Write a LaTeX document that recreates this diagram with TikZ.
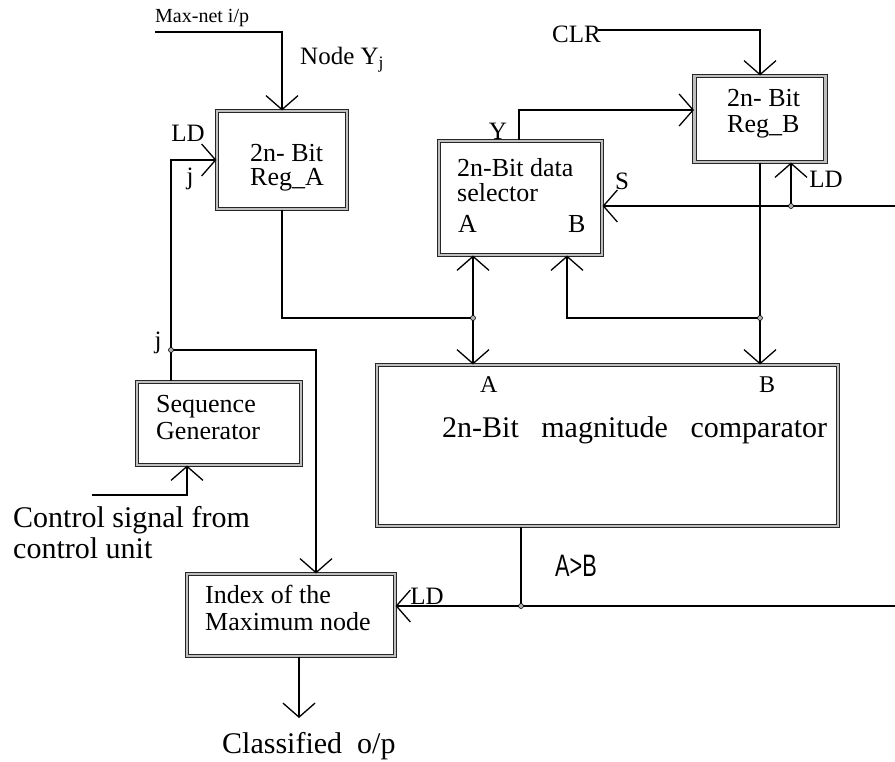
\documentclass[tikz,border=0pt]{standalone}
\usepackage{fontspec}
\setmainfont{Liberation Serif}
\newfontfamily\narrowsans{Liberation Sans}[FakeStretch=0.7]
\usetikzlibrary{arrows.meta}

\begin{document}
\begin{tikzpicture}[x=1pt, y=-1pt,
  blk/.style={draw=black!85, double=gray!50, double distance=2.2pt, line width=1.05pt,
              inner sep=0pt, anchor=center},
  wire/.style={line width=1.3pt, line join=miter},
  sig/.style={wire, -{Straight Barb[length=14pt, width=32pt]}},
  txt/.style={inner sep=0pt, anchor=base west, font=\fontsize{26}{28}\selectfont},
  pin/.style={inner sep=0pt, font=\fontsize{25}{27}\selectfont},
  dot/.style={circle, draw=black, fill=gray!60, line width=0.6pt, inner sep=0pt, minimum size=5pt}
]
\useasboundingbox (0,0) rectangle (895,762);

% ---------------- blocks ----------------
\node[blk, minimum width=130, minimum height=98]  (regA) at (282,160) {};
\node[blk, minimum width=163, minimum height=114] (sel)  at (520.5,198) {};
\node[blk, minimum width=131, minimum height=86]  (regB) at (760,119) {};
\node[blk, minimum width=461, minimum height=161] (cmp)  at (607.5,445.5) {};
\node[blk, minimum width=164, minimum height=83]  (seq)  at (219,423.5) {};
\node[blk, minimum width=208, minimum height=82]  (idx)  at (291,615) {};

% ---------------- block texts ----------------
\node[txt] (regAa) at (250,162) {2n- Bit};
\node[txt] (regAb) at (250,186) {Reg\_A};
\node[txt] (sela)  at (457,177) {2n-Bit data};
\node[txt] (selb)  at (457,202) {selector};
\node[txt] (selA)  at (458,233) {A};
\node[txt] (selB)  at (568,233) {B};
\node[txt] (regBa) at (727,107) {2n- Bit};
\node[txt] (regBb) at (727,133) {Reg\_B};
\node[txt, font=\fontsize{24}{26}\selectfont] (cmpA) at (480,392) {A};
\node[txt, font=\fontsize{24}{26}\selectfont] (cmpB) at (759,392) {B};
\node[txt, font=\fontsize{30}{32}\selectfont] (cmpt) at (442,437)
  {2n-Bit\hspace{0.75em}magnitude\hspace{0.75em}comparator};
\node[txt] (seqa) at (156,412) {Sequence};
\node[txt] (seqb) at (156,439) {Generator};
\node[txt] (idxa) at (205,603) {Index of the};
\node[txt] (idxb) at (205,630) {Maximum node};

% ---------------- free ends and junctions ----------------
\coordinate (mn)   at (155,32);
\coordinate (clr)  at (598,30);
\coordinate (sR)   at (895,206);
\coordinate (gR)   at (895,606);
\coordinate (ctl)  at (92,495);
\coordinate (cls)  at (299,718);
\coordinate (jn)   at (171,350);
\coordinate (jA)   at (473,318);
\coordinate (jB)   at (760,318);
\coordinate (jLD)  at (791,206);
\coordinate (jG)   at (521,606);

% pins on the block sides (shifts are in page units: positive y is up)
\coordinate (regAin)  at (regA.west);
\coordinate (regBy)   at ([yshift=9pt]regB.west);
\coordinate (regBld)  at ([xshift=31pt]regB.south);
\coordinate (selS)    at ([yshift=-8pt]sel.east);
\coordinate (selAin)  at ([xshift=-47.5pt]sel.south);
\coordinate (selBin)  at ([xshift=46.5pt]sel.south);
\coordinate (selY)    at ([xshift=-1.5pt]sel.north);
\coordinate (cmpAin)  at ([xshift=-134.5pt]cmp.north);
\coordinate (cmpBin)  at ([xshift=152.5pt]cmp.north);
\coordinate (cmpOut)  at ([xshift=-86.5pt]cmp.south);
\coordinate (seqIn)   at ([xshift=-32pt]seq.south);
\coordinate (idxIn)   at ([xshift=25pt]idx.north);
\coordinate (idxLD)   at ([yshift=9pt]idx.east);
\coordinate (idxOut)  at ([xshift=8pt]idx.south);

% ---------------- connectors ----------------
\draw[sig] (mn) -| (regA.north);
\draw[sig] (jn) |- (regAin);
\draw[wire] (jn) -- (jn |- seq.north);
\draw[sig] (jn) -| (idxIn);
\draw[sig] (ctl) -| (seqIn);
\draw[sig] (idxOut) -- (cls);

\draw[wire] (regA.south) |- (jA);
\draw[sig] (jA) -- (selAin);
\draw[sig] (jA) -- (cmpAin);
\draw[sig] (regB.south) -- (cmpBin);
\draw[sig] (jB) -| (selBin);

\draw[sig] (selY) |- (regBy);
\draw[sig] (clr) -| (regB.north);
\draw[sig] (sR) -- (selS);
\draw[sig] (jLD) -- (regBld);

\draw[wire] (cmpOut) -- (jG);
\draw[sig] (gR) -- (idxLD);

\foreach \j in {jn, jA, jB, jLD, jG} \node[dot] (d\j) at (\j) {};

% ---------------- signal labels ----------------
\node[inner sep=0pt, anchor=base west, font=\fontsize{20}{22}\selectfont] (mnl) at (155,23) {Max-net i/p};
\node[inner sep=0pt, anchor=base west, font=\fontsize{25}{27}\selectfont] (nyj) at (300,65) {Node Y\textsubscript{j}};
\node[pin] (ldA) at (188,133) {LD};
\node[pin] (jAl) at (190,179) {j};
\node[pin] (jnl) at (158,343) {j};
\node[pin, anchor=base west] (clrl) at (552,43) {CLR};
\node[pin] (yl)  at (498,131) {Y};
\node[pin] (sl)  at (622,181) {S};
\node[pin] (ldB) at (826,179) {LD};
\node[pin] (ldI) at (427,596) {LD};
\node[inner sep=0pt, font=\narrowsans\fontsize{31}{33}\selectfont] (agb) at (576,566) {A>B};
\node[inner sep=0pt, anchor=base west, font=\fontsize{30}{32}\selectfont] (ctla) at (13,527) {Control signal from};
\node[inner sep=0pt, anchor=base west, font=\fontsize{30}{32}\selectfont] (ctlb) at (13,558) {control unit};
\node[inner sep=0pt, anchor=base west, font=\fontsize{30}{32}\selectfont] (clsl) at (222,753) {Classified\hspace{0.5em}o/p};
\end{tikzpicture}
\end{document}
